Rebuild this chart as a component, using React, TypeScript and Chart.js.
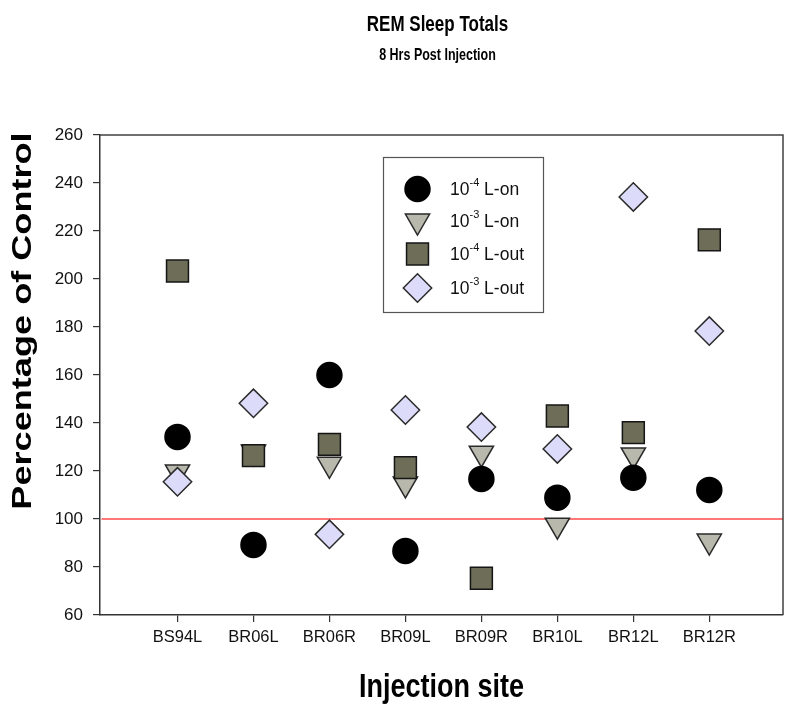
import React, { useEffect, useRef } from "react";
import { Chart, registerables } from "chart.js";

Chart.register(...registerables);

const categories = ["BS94L", "BR06L", "BR06R", "BR09L", "BR09R", "BR10L", "BR12L", "BR12R"];
const lOn4 = [134.2, 89.2, 160.0, 86.7, 116.7, 108.9, 117.2, 112.1];
const lOn3 = [119.6, 127.9, 122.8, 114.6, 127.4, 97.4, 126.7, 90.8];
const lOut4 = [203.3, 126.4, 131.1, 121.4, 75.3, 142.9, 136.0, 216.3];
const lOut3 = [115.5, 148.2, 93.6, 145.4, 138.3, 129.2, 234.2, 178.3];
const controlLevel = 100;
const yTicks = [60, 80, 100, 120, 140, 160, 180, 200, 220, 240, 260];

const FONT = "'Liberation Sans', Arial, sans-serif";

const seriesStyles = [
  { label: ["10", "-4", " L-on"], data: lOn4, pointStyle: "circle", radius: 12.5, rotation: 0, fill: "#000000", stroke: "#000000", order: 3 },
  { label: ["10", "-3", " L-on"], data: lOn3, pointStyle: "triangle", radius: 14, rotation: 180, fill: "#b8b8ac", stroke: "#2a2a2a", order: 4 },
  { label: ["10", "-4", " L-out"], data: lOut4, pointStyle: "rect", radius: 15.5, rotation: 0, fill: "#6d6d58", stroke: "#151515", order: 2 },
  { label: ["10", "-3", " L-out"], data: lOut3, pointStyle: "rectRot", radius: 14.2, rotation: 0, fill: "#dcdcfa", stroke: "#2a2a2a", order: 1 },
];

function drawMarker(ctx: CanvasRenderingContext2D, style: string, x: number, y: number, r: number, rotation: number) {
  ctx.beginPath();
  if (style === "circle") {
    ctx.arc(x, y, r, 0, Math.PI * 2);
  } else if (style === "triangle") {
    let rad = (rotation * Math.PI) / 180;
    ctx.moveTo(x + Math.sin(rad) * r, y - Math.cos(rad) * r);
    rad += (2 * Math.PI) / 3;
    ctx.lineTo(x + Math.sin(rad) * r, y - Math.cos(rad) * r);
    rad += (2 * Math.PI) / 3;
    ctx.lineTo(x + Math.sin(rad) * r, y - Math.cos(rad) * r);
  } else if (style === "rect") {
    const s = Math.SQRT1_2 * r;
    ctx.rect(x - s, y - s, 2 * s, 2 * s);
  } else {
    ctx.moveTo(x - r, y);
    ctx.lineTo(x, y - r);
    ctx.lineTo(x + r, y);
    ctx.lineTo(x, y + r);
  }
  ctx.closePath();
  ctx.fill();
  ctx.stroke();
}

function stretchedText(ctx: CanvasRenderingContext2D, text: string, x: number, y: number, font: string, sx: number, sy: number, rot = 0) {
  ctx.save();
  ctx.translate(x, y);
  if (rot) ctx.rotate(rot);
  ctx.scale(sx, sy);
  ctx.font = font;
  ctx.textAlign = "center";
  ctx.textBaseline = "alphabetic";
  ctx.fillText(text, 0, 0);
  ctx.restore();
}

const decorPlugin = {
  id: "decor",
  afterDraw(chart: any) {
    const ctx: CanvasRenderingContext2D = chart.ctx;
    const a = chart.chartArea;
    ctx.save();
    // frame top & right
    ctx.strokeStyle = "#404040";
    ctx.lineWidth = 1.5;
    ctx.beginPath();
    ctx.moveTo(a.left, a.top);
    ctx.lineTo(a.right, a.top);
    ctx.lineTo(a.right, a.bottom);
    ctx.stroke();

    const cx = (a.left + a.right) / 2;
    ctx.fillStyle = "#000";
    stretchedText(ctx, "REM Sleep Totals", cx - 4, 31, `bold 17px ${FONT}`, 1, 1.25);
    stretchedText(ctx, "8 Hrs Post Injection", cx - 4, 60, `bold 12.5px ${FONT}`, 1, 1.25);
    stretchedText(ctx, "Injection site", cx, 697, `bold 27px ${FONT}`, 1, 1.22);
    stretchedText(ctx, "Percentage of Control", 31, 321, `bold 28px ${FONT}`, 1.29, 1, -Math.PI / 2);

    // legend box
    const lx = a.left + 283.5;
    const ly = a.top + 22.5;
    ctx.fillStyle = "#ffffff";
    ctx.fillRect(lx, ly, 160, 155);
    ctx.strokeStyle = "#555";
    ctx.lineWidth = 1.2;
    ctx.strokeRect(lx, ly, 160, 155);
    const rows = [189, 221, 254, 288];
    seriesStyles.forEach((s, i) => {
      const y = rows[i];
      ctx.fillStyle = s.fill;
      ctx.strokeStyle = s.stroke;
      ctx.lineWidth = 1.5;
      drawMarker(ctx, s.pointStyle, a.left + 317.5, y, s.radius, s.rotation);
      ctx.fillStyle = "#111";
      ctx.textAlign = "left";
      ctx.textBaseline = "middle";
      let tx = a.left + 350;
      ctx.font = `17.5px ${FONT}`;
      ctx.fillText(s.label[0], tx, y + 1);
      tx += ctx.measureText(s.label[0]).width;
      ctx.font = `11px ${FONT}`;
      ctx.fillText(s.label[1], tx, y - 6);
      tx += ctx.measureText(s.label[1]).width;
      ctx.font = `17.5px ${FONT}`;
      ctx.fillText(s.label[2], tx, y + 1);
    });
    ctx.restore();
  },
};

export default function App() {
  const ref = useRef<HTMLCanvasElement | null>(null);
  useEffect(() => {
    document.body.style.margin = "0";
    const canvas = ref.current;
    if (!canvas) return;
    const datasets: any[] = seriesStyles.map((s) => ({
      type: "scatter",
      label: s.label.join(""),
      data: s.data.map((v, i) => ({ x: i + 1, y: v })),
      pointStyle: s.pointStyle,
      pointRadius: s.radius,
      pointRotation: s.rotation,
      pointBackgroundColor: s.fill,
      pointBorderColor: s.stroke,
      pointBorderWidth: 1.5,
      showLine: false,
      order: s.order,
    }));
    datasets.push({
      type: "line",
      label: "Control",
      data: [
        { x: 0, y: controlLevel },
        { x: categories.length + 1, y: controlLevel },
      ],
      borderColor: "#ff4a4a",
      borderWidth: 1.3,
      pointRadius: 0,
      order: 10,
    });
    const chart = new Chart(canvas, {
      type: "scatter",
      data: { datasets },
      options: {
        responsive: false,
        animation: false,
        events: [],
        layout: { padding: { top: 135, right: 14, left: 0, bottom: 51 } },
        plugins: { legend: { display: false }, tooltip: { enabled: false }, title: { display: false } },
        scales: {
          x: {
            type: "linear",
            min: -0.02,
            max: categories.length + 0.97,
            afterBuildTicks: (scale: any) => {
              scale.ticks = categories.map((_, i) => ({ value: i + 1 }));
            },
            afterFit: (scale: any) => {
              scale.height = 40;
            },
            ticks: {
              callback: (v: any) => categories[Number(v) - 1] ?? "",
              font: { family: FONT, size: 16.5 },
              color: "#111",
              padding: 6,
              maxRotation: 0,
              autoSkip: false,
            },
            grid: { display: true, drawOnChartArea: false, drawTicks: true, tickLength: 7, color: "#333", lineWidth: 1.2 },
            border: { display: true, color: "#333", width: 1.5 },
          },
          y: {
            min: 60,
            max: 260,
            afterBuildTicks: (scale: any) => {
              scale.ticks = yTicks.map((v) => ({ value: v }));
            },
            afterFit: (scale: any) => {
              scale.width = 100;
            },
            ticks: {
              font: { family: FONT, size: 17 },
              color: "#111",
              padding: 10,
            },
            grid: { display: true, drawOnChartArea: false, drawTicks: true, tickLength: 7, color: "#333", lineWidth: 1.2 },
            border: { display: true, color: "#333", width: 1.5 },
          },
        },
      },
      plugins: [decorPlugin],
    } as any);
    return () => chart.destroy();
  }, []);
  return (
    <div style={{ width: 800, height: 706 }}>
      <canvas ref={ref} width={800} height={706} style={{ display: "block" }} />
    </div>
  );
}
